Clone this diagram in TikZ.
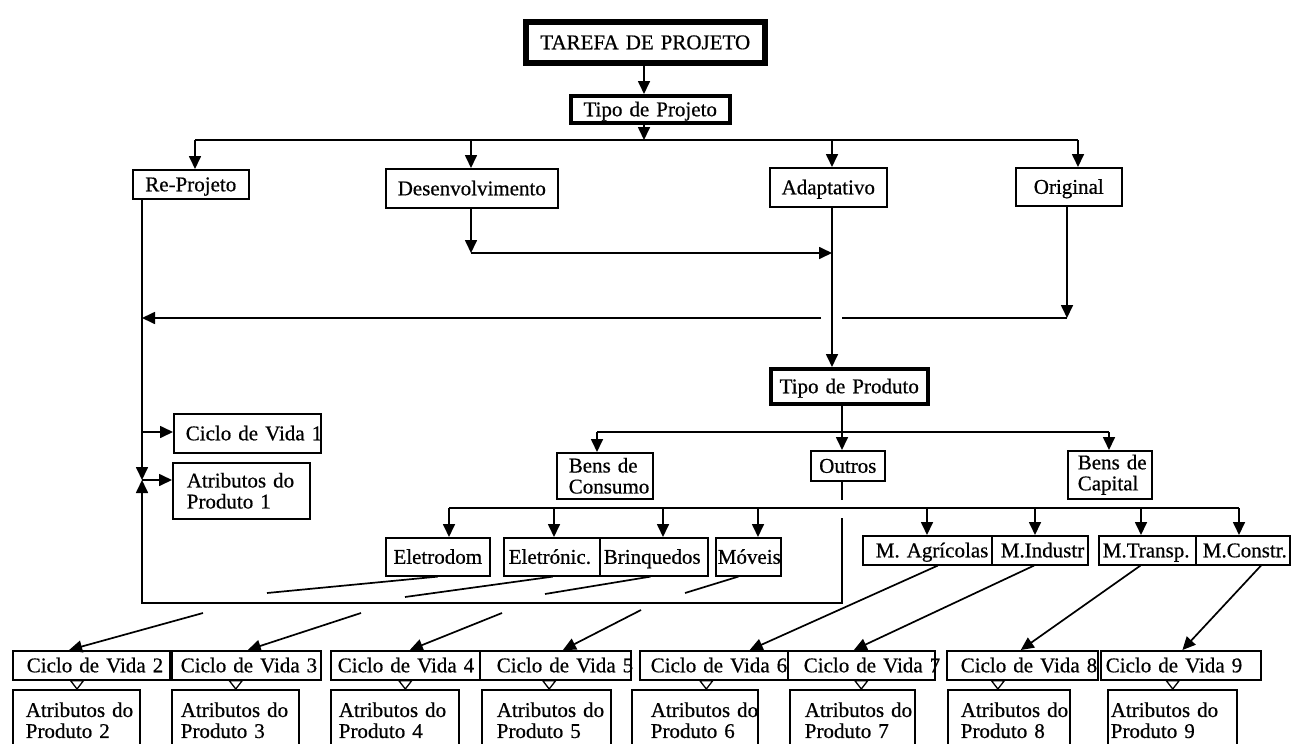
\documentclass[tikz,border=0pt]{standalone}
\usepackage{fontspec}
\setmainfont{Liberation Serif}[FakeBold=0.6]
\usetikzlibrary{arrows.meta,calc}

% rectangular box: [style]{x1}{y1}{x2}{y2}{padding}{name}{text}
\newcommand{\rbox}[8][]{%
  \pgfmathsetmacro\bxw{#4-#2}%
  \pgfmathsetmacro\bxh{#5-#3}%
  \pgfmathsetmacro\bxt{#4-#2-2*#6}%
  \node[box,minimum width=\bxw pt,minimum height=\bxh pt,text width=\bxt pt,
        inner xsep=#6pt,align=left,#1] (#7) at (#2,#3) {#8};}

\begin{document}
\begin{tikzpicture}[x=1pt,y=-1pt,
  lbl/.style={font=\fontsize{21}{21}\selectfont},
  box/.style={draw,line width=1.6pt,inner ysep=0pt,anchor=north west,lbl},
  one/.style={text height=14pt,text depth=0pt},
  mid/.style={align=center},
  ln/.style={line width=1.7pt},
  arr/.style={ln,-{Triangle[length=13pt,width=12pt]}},
  otri/.style={line width=1.3pt,line join=miter},
]
\useasboundingbox (0,0) rectangle (1291,744);
\clip (0,0) rectangle (1291,744);

% ---- top of the tree
\rbox[one,mid,line width=5.5pt]{523}{19}{762}{60}{0}{tarefa}{TAREFA DE PROJETO}
\rbox[one,mid,line width=3.5pt]{569}{94}{728}{121}{0}{tipoproj}{Tipo de Projeto}

% ---- kinds of project
\rbox[one,mid]{132}{169}{248}{198}{0}{reproj}{Re-Projeto}
\rbox[one,mid]{385}{168}{557}{207}{0}{desenv}{Desenvolvimento}
\rbox[one,mid]{769}{167}{886}{206}{0}{adapt}{Adaptativo}
\rbox[one,mid]{1015}{167}{1121}{205}{0}{orig}{Original}

% ---- product type
\rbox[one,mid,line width=3.5pt]{769}{367}{926}{402}{0}{tipoprod}{Tipo de Produto}
\rbox{556}{452}{652}{498}{12}{benscons}{Bens~de\\Consumo}
\rbox[one,mid]{810}{450}{884}{480}{0}{outros}{Outros}
\rbox{1067}{450}{1151}{498}{10}{benscap}{Bens~de\\Capital}

\rbox[one]{173}{413}{320}{452}{12}{ciclo1}{Ciclo~de~Vida~1}
\rbox{172}{462}{309}{518}{14}{atr1}{Atributos~do\\Produto~1}

% ---- consumer goods
\rbox[one,mid]{385}{537}{489}{575}{0}{eletrodom}{Eletrodom}
\rbox[one]{503}{537}{599}{575}{5}{eletronic}{Eletrónic.}
\rbox[one]{599}{537}{707}{575}{4}{brinq}{Brinquedos}
\rbox[one]{715}{537}{780}{575}{2}{moveis}{Móveis}

% ---- capital goods
\rbox[one]{862}{535}{991}{564}{13}{magri}{\mbox{M.~Agrícolas}}
\rbox[one]{991}{535}{1087}{564}{9}{mind}{M.Industr}
\rbox[one]{1098}{535}{1195}{564}{4}{mtransp}{M.Transp.}
\rbox[one]{1195}{535}{1289}{564}{7}{mconstr}{M.Constr.}

% ---- life cycles and product attributes
\foreach \n/\xa/\xb/\p in {2/12/169/14, 3/171/320/9, 4/330/479/7, 5/479/630/17,
                           6/639/787/11, 7/787/934/16, 8/946/1097/14, 9/1100/1260/5}
  {\rbox[one]{\xa}{650}{\xb}{679}{\p}{c\n}{Ciclo~de~Vida~\n}}
\foreach \n/\xa/\xb/\p in {2/12/139/13, 3/171/298/9, 4/330/458/8, 5/481/610/15,
                           6/631/757/19, 7/789/914/15, 8/947/1069/13, 9/1107/1236/3}
  {\rbox{\xa}{689}{\xb}{750}{\p}{a\n}{Atributos~do\\Produto~\n}}

% ---- connectors: project level
\coordinate (xTop) at (644,140);
\draw[arr] (tarefa.south -| xTop) -- (tipoproj.north -| xTop);
\draw[arr] (tipoproj.south -| xTop) -- (xTop);
\coordinate (d1) at (195,140);
\coordinate (d2) at (471,140);
\coordinate (d3) at (832,140);
\coordinate (d4) at (1078,140);
\draw[ln] (d1) -- (d4);
\draw[arr] (d1) -- (reproj.north -| d1);
\draw[arr] (d2) -- (desenv.north -| d2);
\draw[arr] (d3) -- (adapt.north -| d3);
\draw[arr] (d4) -- (orig.north -| d4);

\coordinate (dv) at (471,253);
\coordinate (xAd) at (832,253);
\draw[arr] (desenv.south -| dv) -- (dv);
\draw[arr] (dv) -- (xAd);
\draw[arr] (adapt.south -| xAd) -- (tipoprod.north -| xAd);

\coordinate (og) at (1067,318);
\coordinate (gapR) at (842,318);
\coordinate (gapL) at (821,318);
\coordinate (rp) at (142,318);
\draw[arr] (orig.south -| og) -- (og);
\draw[ln] (og) -- (gapR);
\draw[arr] (gapL) -- (rp);

% ---- re-design branch
\coordinate (rpC) at (142,432);
\coordinate (rpA) at (142,480);
\draw[arr] (reproj.south -| rpA) -- (rpA);
\draw[arr] (rpC) -- (ciclo1.west |- rpC);
\draw[arr] (rpA) -- (atr1.west |- rpA);

% ---- product level
\coordinate (b2L) at (597,432);
\coordinate (b2R) at (1109,432);
\coordinate (brR) at (842,603);
\coordinate (brL) at (142,603);
\coordinate (oG1) at (842,500);
\coordinate (oG2) at (842,518);
\draw[ln] (b2L) -- (b2R);
\draw[arr] (tipoprod.south -| brR) -- (outros.north -| brR);
\draw[arr] (b2L) -- (benscons.north -| b2L);
\draw[arr] (b2R) -- (benscap.north -| b2R);
\draw[ln] (outros.south -| brR) -- (oG1);
\draw[arr] (oG2) -- (brR) -- (brL) -- (rpA);

\coordinate (b3L) at (449,508);
\coordinate (b3R) at (1239,508);
\draw[ln] (b3L) -- (b3R);
\foreach \x/\n [count=\i] in {449/eletrodom, 554/eletronic, 663/brinq, 758/moveis,
                               927/magri, 1035/mind, 1141/mtransp, 1239/mconstr}
  {\coordinate (e\i) at (\x,508);
   \draw[arr] (e\i) -- (\n.north -| e\i);}

% ---- consumer goods to life cycles (interrupted at the frame)
\coordinate (u1) at (267,593); \coordinate (l1) at (203,613);
\coordinate (u2) at (405,597); \coordinate (l2) at (361,613);
\coordinate (u3) at (545,594); \coordinate (l3) at (502,613);
\coordinate (u4) at (685,593); \coordinate (l4) at (641,610);
\draw[ln] ($(eletrodom.south west)!0.5!(eletrodom.south east)$) -- (u1);
\draw[ln] ($(eletronic.south west)!0.51!(eletronic.south east)$) -- (u2);
\draw[ln] ($(brinq.south west)!0.47!(brinq.south east)$) -- (u3);
\draw[ln] ($(moveis.south west)!0.35!(moveis.south east)$) -- (u4);
\draw[arr] (l1) -- ($(c2.north west)!0.36!(c2.north east)$);
\draw[arr] (l2) -- ($(c3.north west)!0.51!(c3.north east)$);
\draw[arr] (l3) -- ($(c4.north west)!0.53!(c4.north east)$);
\draw[arr] (l4) -- ($(c5.north west)!0.55!(c5.north east)$);

% ---- capital goods to life cycles
\draw[arr] ($(magri.south west)!0.58!(magri.south east)$) -- ($(c6.north west)!0.74!(c6.north east)$);
\draw[arr] ($(mind.south west)!0.44!(mind.south east)$) -- ($(c7.north west)!0.45!(c7.north east)$);
\draw[arr] ($(mtransp.south west)!0.43!(mtransp.south east)$) -- ($(c8.north west)!0.49!(c8.north east)$);
\draw[arr] ($(mconstr.south west)!0.69!(mconstr.south east)$) -- ($(c9.north west)!0.51!(c9.north east)$);

% ---- life cycle to attributes: open triangle hanging under each cycle box
\foreach \n/\f in {2/0.41, 3/0.43, 4/0.5, 5/0.46, 6/0.45, 7/0.5, 8/0.34, 9/0.45}
  {\path ($(c\n.south west)!\f!(c\n.south east)$) coordinate (t\n);
   \draw[otri] ([xshift=-6.5pt]t\n) -- ([xshift=6.5pt]t\n) -- (t\n |- a\n.north) -- cycle;}
\end{tikzpicture}
\end{document}
